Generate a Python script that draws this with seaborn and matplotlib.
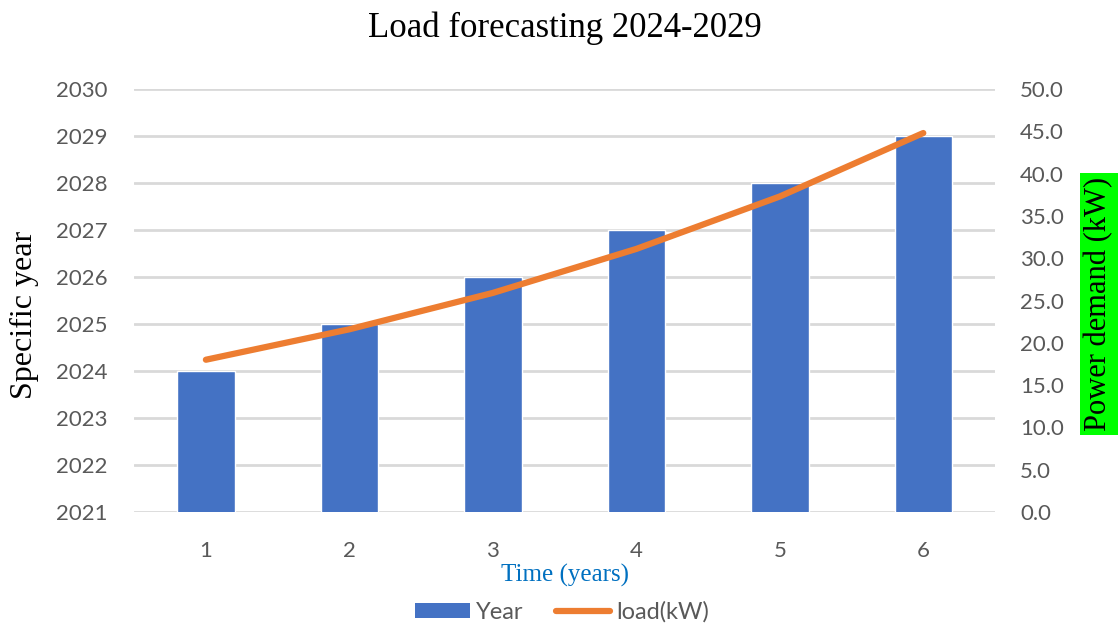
import matplotlib
matplotlib.use("Agg")
import matplotlib.pyplot as plt
import seaborn as sns
import pandas as pd
from matplotlib.patches import Patch
from matplotlib.lines import Line2D
from matplotlib.ticker import FormatStrFormatter

# Data
time_years = [1, 2, 3, 4, 5, 6]
specific_year = [2024, 2025, 2026, 2027, 2028, 2029]
load_kw = [18.0, 21.6, 25.9, 31.1, 37.3, 44.8]
year_ticks = list(range(2021, 2031))
load_ticks = [0, 5, 10, 15, 20, 25, 30, 35, 40, 45, 50]

BAR = "#4472C4"
LINE = "#ED7D31"
GRID = "#D9D9D9"
TICK = "#595959"

sns.set_theme(style="white")
plt.rcParams["font.family"] = ["Lato", "DejaVu Sans"]
SERIF = ["Liberation Serif", "DejaVu Serif"]

df = pd.DataFrame({"time": time_years, "year": specific_year, "load": load_kw})

fig = plt.figure(figsize=(11.18, 6.27), dpi=100)
ax = fig.add_axes([0.12, 0.1834, 0.77, 0.6746])

sns.barplot(data=df, x="time", y="year", native_scale=True, color=BAR,
            saturation=1, width=0.4, ax=ax, zorder=2)
ax.set_ylim(2021, 2030)
ax.set_yticks(year_ticks)
ax.set_xlim(0.5, 6.5)
ax.set_xticks(time_years)
ax.yaxis.grid(True, color=GRID, linewidth=2)
ax.set_axisbelow(True)
for s in ax.spines.values():
    s.set_visible(False)
ax.tick_params(axis="y", length=0, pad=19, labelsize=16, labelcolor=TICK)
ax.tick_params(axis="x", length=0, pad=21, labelsize=16, labelcolor=TICK)
ax.set_xlabel("")
ax.set_ylabel("")

ax2 = ax.twinx()
sns.lineplot(data=df, x="time", y="load", color=LINE, linewidth=4.5,
             solid_capstyle="round", ax=ax2, zorder=3)
ax2.set_ylim(0, 50)
ax2.set_yticks(load_ticks)
ax2.yaxis.set_major_formatter(FormatStrFormatter("%.1f"))
for s in ax2.spines.values():
    s.set_visible(False)
ax2.tick_params(axis="y", length=0, pad=18, labelsize=16, labelcolor=TICK)
ax2.set_xlabel("")
ax2.set_ylabel("")

fig.text(0.505, 0.955, "Load forecasting 2024-2029", ha="center", va="center",
         fontsize=25, family=SERIF, color="black")
fig.text(0.022, 0.497, "Specific year", ha="center", va="center", rotation=90,
         fontsize=23, family=SERIF, color="black")
fig.text(0.983, 0.515, "Power demand (kW)", ha="center", va="center", rotation=90,
         fontsize=22, family=SERIF, color="black",
         bbox=dict(facecolor="#00FF00", edgecolor="none", pad=3))
fig.text(0.505, 0.082, "Time (years)", ha="center", va="center",
         fontsize=18, family=SERIF, color="#0070C0")

handles = [Patch(facecolor=BAR, edgecolor="none"),
           Line2D([0], [0], color=LINE, linewidth=4.5, solid_capstyle="round")]
fig.legend(handles, ["Year", "load(kW)"], loc="center", bbox_to_anchor=(0.503, 0.024),
           ncol=2, frameon=False, fontsize=17, labelcolor=TICK,
           handlelength=2.3, handleheight=0.6, columnspacing=1.4, handletextpad=0.25)

fig.savefig("out.png", dpi=100, facecolor="white")
